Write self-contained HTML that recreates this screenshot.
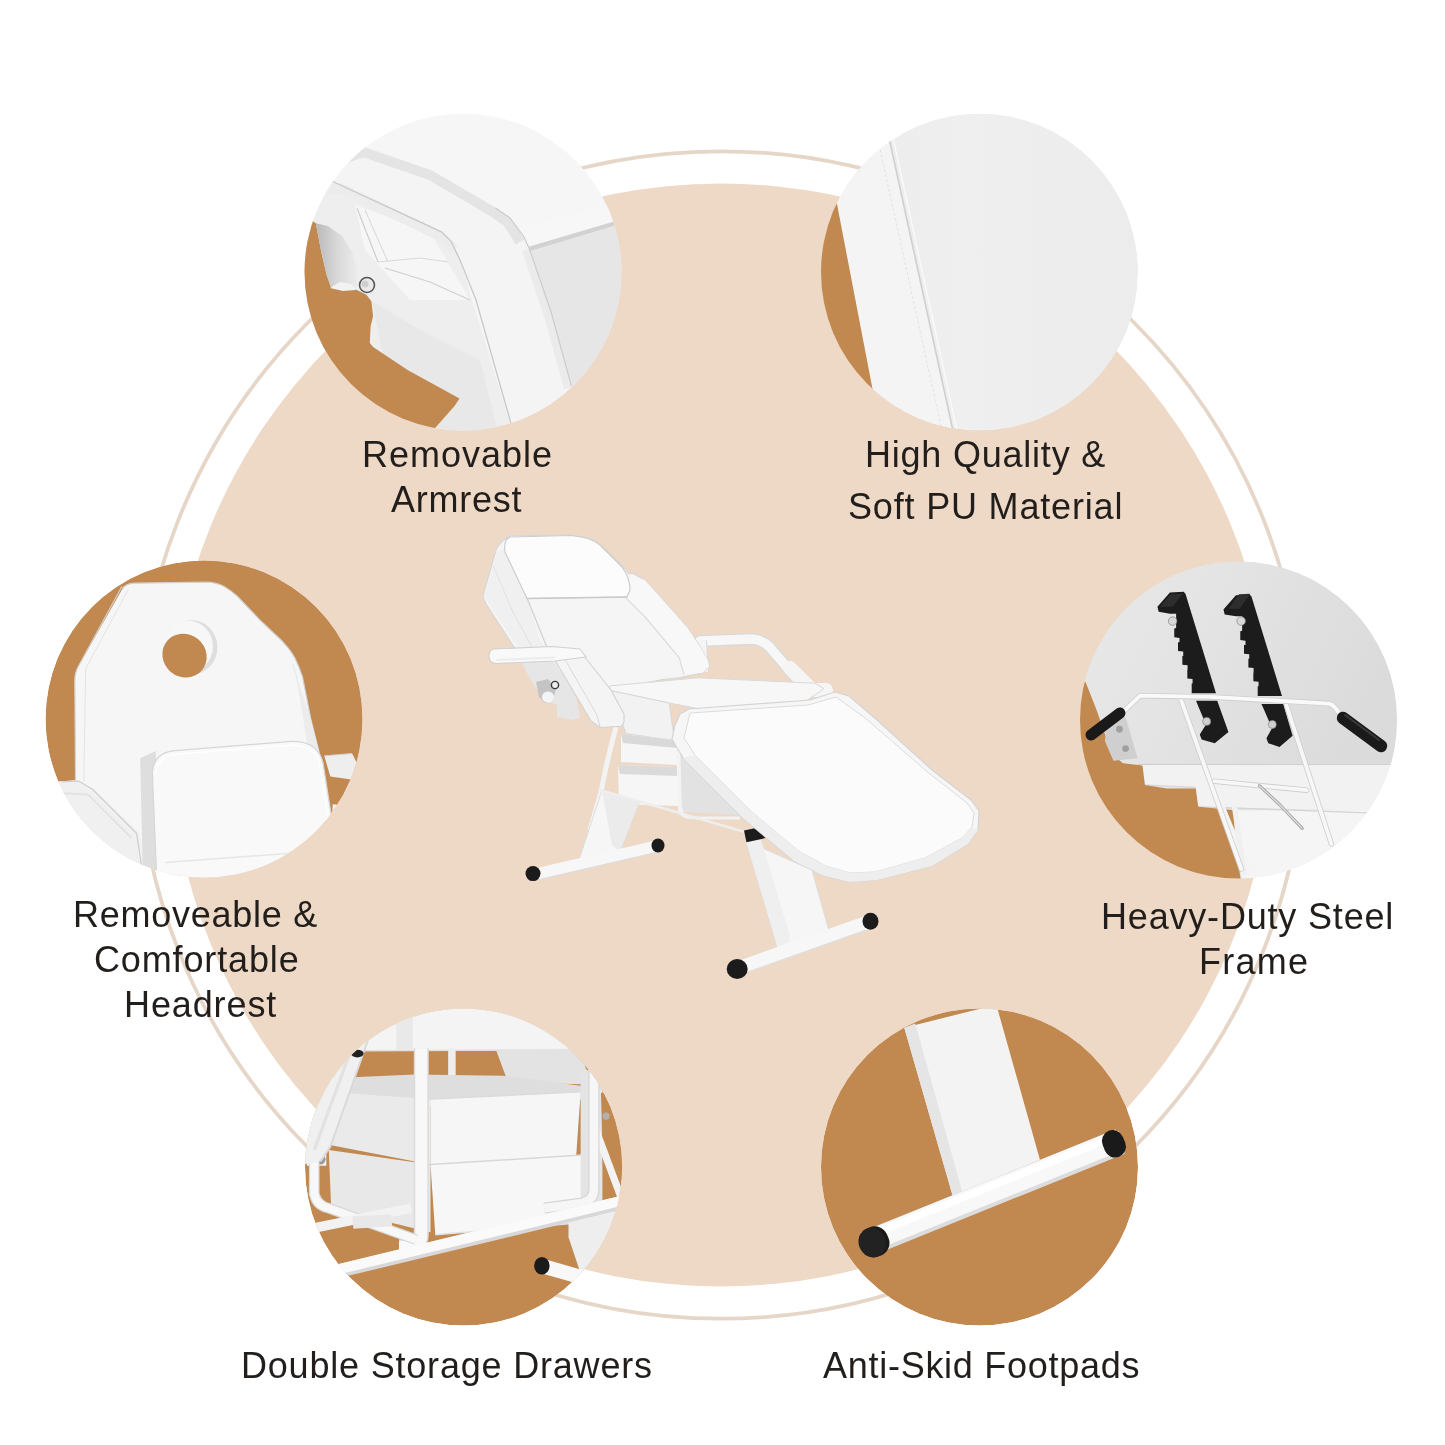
<!DOCTYPE html>
<html><head><meta charset="utf-8">
<style>
html,body{margin:0;padding:0;background:#fff;}
body{width:1445px;height:1445px;position:relative;overflow:hidden;font-family:"Liberation Sans",sans-serif;}
svg{position:absolute;left:0;top:0;}
.t{position:absolute;color:#221e1b;font-size:36px;line-height:36px;white-space:pre;will-change:transform;}
</style></head><body>
<svg width="1445" height="1445" viewBox="0 0 1445 1445">
  <circle cx="721" cy="735" r="583.7" fill="none" stroke="#e6d6c8" stroke-width="3.8"/>
  <circle cx="721" cy="735" r="551.5" fill="#eed9c7"/>
  <g id="chair" stroke-linejoin="round">
    <!-- right armrest frame (behind) -->
    <path d="M700 641 L752 639 Q765 640 773 651 L797 679" fill="none" stroke="#d9d9d9" stroke-width="12" stroke-linecap="round"/>
    <path d="M700 641 L752 639 Q765 640 773 651 L797 679" fill="none" stroke="#f7f7f7" stroke-width="9.5" stroke-linecap="round"/>
    <path d="M701 641 L703 672" fill="none" stroke="#d9d9d9" stroke-width="12"/>
    <path d="M701 641 L703 672" fill="none" stroke="#f4f4f4" stroke-width="10"/>
    <path d="M790 668 L812 690 L826 690" fill="none" stroke="#f5f5f5" stroke-width="14" stroke-linecap="round"/>
    <!-- backrest -->
    <path d="M501.6 541.6 L509.9 535.8 L571.3 535 L586.3 537.5 L596.3 541.6 L609.5 553.2 L622.8 566.5 L629 574 L632.8 573.2 L644.4 579.8 L662.7 599.7 L687.6 628 L700.9 647.9 L707.5 659.5 L709.2 666.2 L702.6 672.8 L679.3 677.8 L662.7 679.5 L600 692 L540 692 L529.8 671.2 L486.6 604.7 L483.3 598.1 L484.2 591.4 L490 571.5 L496.6 548.3 Z" fill="#f5f5f5" stroke="#d6d6d6" stroke-width="1.1"/>
    <path d="M497 552 L505 548 L527 598 L540 640 L560 668 L545 675 L532 668 L488 603 L485 595 Z" fill="#f0f0f0"/>
    <path d="M505 548 L527 598 L548 650" fill="none" stroke="#d0d0d0" stroke-width="1.2"/>
    <path d="M493 565 L512 610 L540 662" fill="none" stroke="#e0e0e0" stroke-width="1"/>
    <!-- right bolster -->
    <path d="M626 598 L629 578 L644.4 579.8 L662.7 599.7 L687.6 628 L700.9 647.9 L707.5 659.5 L709.2 666.2 L702.6 672.8 L684 674.5 L679.3 657.9 L646 618 Z" fill="#f8f8f8"/>
    <path d="M626 598 L646 618 L679.3 657.9 L684 674.5" fill="none" stroke="#dcdcdc" stroke-width="1.2"/>
    <!-- headrest pad -->
    <path d="M510 537 L571 535.5 Q590 537 600 545 L622 567 Q630 578 630 590 L627 597 L527 598.5 L505 552 Q503 540 510 537 Z" fill="#fcfcfc" stroke="#cdcdcd" stroke-width="1.2"/>
    <path d="M527 598.5 L627 597" fill="none" stroke="#c9c9c9" stroke-width="1.6"/>
    <!-- seat -->
    <path d="M609.8 685.9 L698 677.8 L814.9 683.2 L823.9 688.6 L805.9 701.2 L716 712 L669.2 703 L609.8 690.4 Z" fill="#f7f7f7" stroke="#d9d9d9" stroke-width="1"/>
    <path d="M609.8 690.4 L669.2 703 L674.6 740.8 L626 733.6 L611.6 694 Z" fill="#f2f2f2" stroke="#d8d8d8" stroke-width="1"/>
    <!-- under structure -->
    <path d="M680 745 L735 760 L745 815 L682 812 Z" fill="#e2e2e2"/>
    <path d="M680 805 L682 812 Q684 818 700 818 L740 818" fill="none" stroke="#f2f2f2" stroke-width="3"/>
    <!-- drawers -->
    <path d="M621 734 L677 740 L678.6 765 L621 762 Z" fill="#f6f6f6"/>
    <path d="M621 734 L677 740 L677 748 L623 743 Z" fill="#d9d9d9"/>
    <path d="M618 765 L678.6 767 L678.6 806 L619 804 Z" fill="#f6f6f6"/>
    <path d="M618 765 L678.6 767 L678.6 776 L620 774 Z" fill="#dadada"/>
    <path d="M678 738 L680 810 Q681 816 690 817" fill="none" stroke="#f3f3f3" stroke-width="4"/>
    <!-- left frame tube and leg -->
    <path d="M616 727 Q607 760 601 792 L590 830" fill="none" stroke="#f3f3f3" stroke-width="5"/>
    <path d="M602 790 L639 803 L620 851 L594 860 L578 863 Z" fill="#f6f6f6" stroke="#dedede" stroke-width="1"/>
    <path d="M602 790 L639 803 L620 851 L612 845 Z" fill="#ebebeb"/>
    <path d="M600 790 L745 832" fill="none" stroke="#eeeeee" stroke-width="2.5"/>
    <!-- left foot tube -->
    <path d="M537 874 L658 846" fill="none" stroke="#f7f7f7" stroke-width="12" stroke-linecap="butt"/>
    <path d="M537 880 L658 852" fill="none" stroke="#dddddd" stroke-width="1"/>
    <ellipse cx="658" cy="845.5" rx="6.5" ry="7" fill="#1b1b1b"/>
    <ellipse cx="533" cy="873.6" rx="7.5" ry="7.5" fill="#1b1b1b"/>
    <!-- right leg -->
    <path d="M746 841 L812 870 L829 931 L789 949 L778 949 Z" fill="#f6f6f6" stroke="#dedede" stroke-width="1"/>
    <path d="M746 841 L760 836 L790 936 L789 949 L778 949 Z" fill="#efefef"/>
    <rect x="745" y="828" width="22" height="12" fill="#1c1c1c" transform="rotate(-12 756 834)"/>
    <!-- leg rest -->
    <path d="M680 714 L689 709 L810 700 L835 692 L849 696 L877 720 L932 770 L971 800 L979 811 L978 830 L968 844 L932 866 L877 880 L849 882 L822 875 L794 861 L744 819 L683 758 L672 739 L675 725 Z" fill="#f6f6f6" stroke="#d4d4d4" stroke-width="1.2"/>
    <path d="M690 713 L808 705 L836 697 L865 718 L930 774 L967 803 L974 813 L972 827 L962 838 L925 858 L875 872 L850 873 L826 866 L800 852 L752 812 L695 755 L684 738 Z" fill="#fbfbfb" stroke="#dcdcdc" stroke-width="1"/>
    <path d="M683 758 L744 819 L794 861 L822 875 L849 882 L877 880 L932 866 L968 844 L978 830 L972 827 L962 838 L925 858 L875 872 L850 873 L826 866 L800 852 L752 812 L695 755 Z" fill="#eeeeee"/>
    <!-- left armrest bracket -->
    <path d="M522 663 L552 660 L575 690 L580 718 L572 720 L557 717 L557 705 L545 700 L537 690 L528 675 Z" fill="#e6e6e6"/>
    <path d="M536 682 L548 679 L556 689 L553 700 L545 703 L539 697 Z" fill="#c4c4c4"/>
    <ellipse cx="548" cy="697" rx="6" ry="5.5" fill="#f4f4f4"/>
    <circle cx="555" cy="685" r="3.6" fill="#eeeeee" stroke="#3a3a3a" stroke-width="1.4"/>
    <!-- left armrest pad + block -->
    <path d="M553 657 L580 651 L611 690 L624 714 L624 722 L621.7 726.3 L600 727.5 L591 721 Z" fill="#f4f4f4" stroke="#d2d2d2" stroke-width="1.1"/>
    <path d="M563 656 L597 715 L600 727" fill="none" stroke="#dadada" stroke-width="1"/>
    <path d="M494 649 L552 646.5 L580 649 L586 657 L555 661 L496 663.5 Q489 663 489 656 Q489 650 494 649 Z" fill="#f9f9f9" stroke="#d0d0d0" stroke-width="1.1"/>
    <path d="M496 660 L555 657.5" stroke="#ececec" stroke-width="2" fill="none"/>
    <!-- right foot tube -->
    <path d="M742 967 L866 923" fill="none" stroke="#f7f7f7" stroke-width="14" stroke-linecap="butt"/>
    <path d="M742 974 L866 930" fill="none" stroke="#dcdcdc" stroke-width="1"/>
    <ellipse cx="870.5" cy="921.2" rx="8" ry="8.5" fill="#1b1b1b"/>
    <ellipse cx="737.2" cy="969" rx="10.5" ry="10" fill="#1b1b1b"/>
  </g>
  <defs>
    <clipPath id="k1"><circle cx="463" cy="272" r="158.5"/></clipPath>
    <clipPath id="k2"><circle cx="979.5" cy="272" r="158.5"/></clipPath>
    <clipPath id="k3"><circle cx="204" cy="719" r="158.5"/></clipPath>
    <clipPath id="k4"><circle cx="1238.5" cy="720" r="158.5"/></clipPath>
    <clipPath id="k5"><circle cx="463.5" cy="1167" r="158.5"/></clipPath>
    <clipPath id="k6"><circle cx="979.5" cy="1167" r="158.5"/></clipPath>
    <linearGradient id="gband" x1="0" y1="0" x2="0.25" y2="1">
      <stop offset="0" stop-color="#e1e1e1"/><stop offset="0.3" stop-color="#ececec"/><stop offset="1" stop-color="#f8f8f8"/>
    </linearGradient>
    <linearGradient id="gpu" x1="0" y1="0" x2="1" y2="0">
      <stop offset="0" stop-color="#ebebeb"/><stop offset="0.45" stop-color="#efefef"/><stop offset="1" stop-color="#ececec"/>
    </linearGradient>
    <linearGradient id="glever" x1="0" y1="0" x2="1" y2="0">
      <stop offset="0" stop-color="#b9b9b9"/><stop offset="0.5" stop-color="#d8d8d8"/><stop offset="1" stop-color="#ececec"/>
    </linearGradient>
    <linearGradient id="gfr" x1="0" y1="0" x2="1" y2="0.3">
      <stop offset="0" stop-color="#e9e9e9"/><stop offset="0.5" stop-color="#e3e3e3"/><stop offset="1" stop-color="#dbdbdb"/>
    </linearGradient>
    <linearGradient id="gtube" x1="0" y1="0" x2="0" y2="1">
      <stop offset="0" stop-color="#ffffff"/><stop offset="0.6" stop-color="#f4f4f4"/><stop offset="1" stop-color="#d9d9d9"/>
    </linearGradient>
  </defs>
  <g id="c1" clip-path="url(#k1)">
    <circle cx="463" cy="272" r="158.5" fill="#f6f6f6"/>
    <!-- seat side right of post -->
    <path d="M520 232 L640 200 L640 440 L560 440 Z" fill="#e6e6e6"/>
    <path d="M518 228 L640 196 L640 214 L528 247 Z" fill="#f7f7f7"/>
    <path d="M528 247 L640 214 L640 218 L530 251 Z" fill="#d2d2d2"/>
    <!-- window region -->
    <path d="M300 178 L331.6 181 L441.4 231.9 L451 241.4 L460 260 L515 440 L300 440 Z" fill="#eeeeee"/>
    <path d="M355 205 L430 232 L470 300 L410 300 L365 250 Z" fill="#f6f6f6"/>
    <path d="M372 301 L420 330 L480 360 L500 440 L400 440 Z" fill="#e8e8e8"/>
    <path d="M357 208 L378 262" stroke="#cdcdcd" stroke-width="1.2" fill="none"/>
    <path d="M365 210 L388 262" stroke="#d6d6d6" stroke-width="1" fill="none"/>
    <path d="M385 268 L430 282 L470 300" stroke="#d0d0d0" stroke-width="1.2" fill="none"/>
    <path d="M378 262 L420 258 L448 262" stroke="#d8d8d8" stroke-width="1" fill="none"/>
    <!-- armrest band + post -->
    <path d="M363.4 147.5 L430 170 L495.5 208 L510 218 L517.8 228.7 L523.5 236 L529.8 250 L551.4 313 L571.4 386 L590 440 L515 440 L510 420 L476 300 L460 260 L451 241.4 L441.4 231.9 L331.6 181 L300 172 Z" fill="#f4f4f4"/>
    <path d="M300 175 L363.4 152 L430 175 L493 212 L507 222 L514 232 L520 242" fill="none" stroke="#e4e4e4" stroke-width="10"/>
    <path d="M300 190 L340 188 L440 236 L455 250" fill="none" stroke="#ececec" stroke-width="10"/>
    <path d="M526 250 L548 316 L568 388" fill="none" stroke="#ebebeb" stroke-width="8"/>
    <path d="M331.6 181 L441.4 231.9 L451 241.4 L460 260 L476 300 L510 420 L515 440" stroke="#c8c8c8" stroke-width="1.3" fill="none"/>
    <path d="M495.5 208 L510 218 L517.8 228.7 L523.5 236 L529.8 250 L551.4 313 L571.4 386" stroke="#cccccc" stroke-width="1.2" fill="none"/>
    <path d="M300 168 L363.4 147.5" stroke="#e0e0e0" stroke-width="2" fill="none"/>
    <!-- orange -->
    <path d="M312.5 220.8 L315.8 223.3 L321.6 253.2 L326.6 274.8 L330.7 286.4 L343.2 289.7 L354.8 288.9 L366.4 294.7 L371.4 301.3 L373.1 316.3 L370.6 326.2 L369.8 342.9 L373.1 347 L408 370.3 L459.5 398.5 L454.5 406 L436.2 426.7 L420 445 L280 445 L280 200 Z" fill="#c1884f"/>
    <!-- lever -->
    <path d="M315.8 223.3 L328 226 L342 236 L352 252 L358 272 L356 288 L343.2 289.7 L330.7 286.4 L326.6 274.8 L321.6 253.2 Z" fill="url(#glever)"/>
    <path d="M330 288 L340 282 L352 284 L356 290 L343 291 Z" fill="#f2f2f2"/>
    <circle cx="367" cy="285" r="7.5" fill="#e9e9e9" stroke="#555" stroke-width="1.6"/>
    <circle cx="365" cy="284" r="3.5" fill="#cfcfcf"/>
  </g>
  <g id="c2" clip-path="url(#k2)">
    <circle cx="979.5" cy="272" r="158.5" fill="url(#gpu)"/>
    <path d="M826.6 150 L888 133 L955 440 L882.3 440 Z" fill="#f4f4f4"/>
    <path d="M826.6 150 L882.3 440 L800 440 L800 150 Z" fill="#c1884f"/>
    <path d="M888 133 L955 440" stroke="#cfcfcf" stroke-width="1.6" fill="none"/>
    <path d="M892 133 L959 440" stroke="#f9f9f9" stroke-width="1.5" fill="none"/>
    <path d="M878 140 L944 440" stroke="#e2e2e2" stroke-width="1" fill="none" stroke-dasharray="3 2"/>
  </g>
    <g id="c3" clip-path="url(#k3)">
    <circle cx="204" cy="719" r="158.5" fill="#c1884f"/>
    <g transform="translate(30,550) scale(0.24219)">
      <!-- bottom white chair region -->
      <path d="M40 960 L130 955 L200 950 L440 1170 L520 1300 L1240 1250 L1250 1050 L1350 1060 L1400 1400 L0 1400 Z" fill="#f2f2f2"/>
      <!-- right small armrest -->
      <path d="M1215 850 L1330 840 L1350 880 L1340 950 L1240 935 Z" fill="#eeeeee"/>
      <path d="M1215 850 L1330 840" stroke="#d0d0d0" stroke-width="4" fill="none"/>
      <!-- headrest/backrest -->
      <path d="M383 158 Q395 140 430 137 L729 133 Q770 134 800 150 Q830 168 855 190 L950 290 L1043 378 Q1080 418 1094 447 Q1112 485 1125 523 L1160 700 L1210 900 L1240 1100 L1245 1300 L200 1300 L188 960 L185 540 Q185 505 200 480 Z" fill="#f6f6f6"/>
      <path d="M383 158 Q395 140 430 137 L729 133 Q770 134 800 150 Q830 168 855 190 L950 290 L1043 378 Q1080 418 1094 447 Q1112 485 1125 523 L1160 700 L1210 900 L1240 1100" stroke="#d2d2d2" stroke-width="5" fill="none"/>
      <path d="M380 150 L200 480 Q185 505 185 540 L188 960" stroke="#d2d2d2" stroke-width="5" fill="none"/>
      <path d="M405 165 L230 490 L222 960" stroke="#e2e2e2" stroke-width="4" fill="none"/>
      <path d="M1085 470 L1100 520 L1135 700 L1190 900 L1215 1100" stroke="#e4e4e4" stroke-width="4" fill="none"/>
      <path d="M1100 520 L1160 700 L1210 900 L1240 1100 L1245 1300 L1190 1300 L1160 900 Z" fill="#ececec"/>
      <!-- left armrest -->
      <path d="M60 975 L130 955 L200 952 L260 985 L450 1165 L475 1300 L470 1400 L40 1400 Z" fill="#f0f0f0"/>
      <path d="M130 958 L200 954 L258 988 L440 1170 L460 1300" stroke="#cfcfcf" stroke-width="5" fill="none"/>
      <path d="M70 1000 L240 1010 L420 1190" stroke="#e2e2e2" stroke-width="8" fill="none"/>
      <!-- hole -->
      <ellipse cx="668" cy="402" rx="106" ry="112" fill="#dedede"/>
      <ellipse cx="655" cy="398" rx="100" ry="106" fill="#f7f7f7"/>
      <ellipse cx="638" cy="436" rx="94" ry="88" fill="#c1884f" transform="rotate(40 638 436)"/>
      <!-- cushion side shadow -->
      <path d="M455 860 L520 830 L520 1320 L465 1300 Z" fill="#dedede"/>
      <!-- cushion -->
      <path d="M505 920 Q510 835 600 828 L1080 790 Q1190 788 1210 880 L1265 1230 L1270 1400 L525 1400 Z" fill="#f9f9f9" stroke="#d6d6d6" stroke-width="5"/>
      <path d="M520 925 Q528 850 605 843 L1078 806 Q1178 806 1195 885 L1250 1230" fill="none" stroke="#ffffff" stroke-width="5"/>
      <path d="M560 1290 L1240 1240" fill="none" stroke="#e6e6e6" stroke-width="6"/>
    </g>
  </g>
  <g id="c4" clip-path="url(#k4)">
    <circle cx="1238.5" cy="720" r="158.5" fill="#e4e4e4"/>
    <g transform="translate(1065,550) scale(0.24219)">
      <!-- top panel light -->
      <path d="M0 0 L1450 0 L1450 880 L200 880 L160 750 L100 600 L80 540 Z" fill="url(#gfr)"/>
      <!-- lower panels -->
      <path d="M300 880 L1400 880 L1400 1080 L540 1060 L540 980 L330 970 Z" fill="#f2f2f2"/>
      <path d="M300 885 L1400 885" stroke="#cfcfcf" stroke-width="6" fill="none"/>
      <path d="M330 970 L540 980" stroke="#d8d8d8" stroke-width="5" fill="none"/>
      <path d="M700 1075 L1400 1075 L1400 1450 L740 1450 Z" fill="#f5f5f5"/>
      <path d="M540 1060 L1250 1085" stroke="#d4d4d4" stroke-width="5" fill="none"/>
      <!-- orange -->
      <path d="M0 500 L62 540 L85 545 L130 660 L165 760 L200 850 L240 880 L320 890 L330 970 L420 985 L540 985 L550 1060 L700 1075 L700 1200 L740 1450 L0 1450 Z" fill="#c1884f"/>
      <!-- bracket silver -->
      <path d="M170 720 L250 690 L300 860 L200 870 L165 790 Z" fill="#cfcfcf"/>
      <circle cx="225" cy="740" r="14" fill="#a0a0a0"/>
      <circle cx="250" cy="820" r="14" fill="#a0a0a0"/>
      <!-- legs -->
      <path d="M620 1000 L760 1340" stroke="#f4f4f4" stroke-width="30" fill="none"/>
      <path d="M700 1060 L740 1340" stroke="#f0f0f0" stroke-width="22" fill="none"/>
    </g>
    <!-- ratchets (source coords via zoom 8.028) -->
    <g transform="translate(1140,580) scale(0.12456)">
      <path d="M140 215 L240 100 L350 95 L365 110 L610 910 L415 910 L415 900 L415 830 L422 830 L422 795 L380 790 L380 720 L382 720 L382 685 L340 680 L340 610 L347 610 L347 575 L305 570 L305 500 L317 500 L317 465 L275 460 L275 390 L290 385 L290 270 L240 270 L150 255 Z" fill="#1c1c1c"/>
      <path d="M450 970 L620 970 L710 1220 L600 1310 L495 1280 L480 1240 L530 1160 L470 1020 Z" fill="#1c1c1c"/>
      <path d="M670 237 L770 122 L880 117 L895 132 L1140 932 L945 932 L945 922 L945 852 L952 852 L952 817 L910 812 L910 742 L912 742 L912 707 L870 702 L870 632 L877 632 L877 597 L835 592 L835 522 L847 522 L847 487 L805 482 L805 412 L820 407 L820 292 L770 292 L680 277 Z" fill="#1c1c1c"/>
      <path d="M975 995 L1150 995 L1225 1250 L1120 1340 L1030 1310 L1015 1270 L1060 1190 L995 1040 Z" fill="#1c1c1c"/>
      <path d="M160 215 L245 115 L345 110 L260 215 Z" fill="#2e2e2e"/>
      <path d="M710 230 L795 115 L885 110 L800 230 Z" fill="#2e2e2e"/>
      <circle cx="262" cy="330" r="34" fill="#d8d8d8" stroke="#8a8a8a" stroke-width="6"/>
      <circle cx="812" cy="330" r="34" fill="#d8d8d8" stroke="#8a8a8a" stroke-width="6"/>
      <circle cx="535" cy="1135" r="32" fill="#d0d0d0" stroke="#8a8a8a" stroke-width="6"/>
      <circle cx="1062" cy="1160" r="32" fill="#d0d0d0" stroke="#8a8a8a" stroke-width="6"/>
    </g>
    <!-- frame tubes (source coords) -->
    <g fill="none" stroke-linecap="round" stroke-linejoin="round">
      <path d="M1180.7 699 L1241.4 869" stroke="#cfcfcf" stroke-width="5.5"/>
      <path d="M1180.7 699 L1241.4 869" stroke="#f7f7f7" stroke-width="3.8"/>
      <path d="M1286.4 705 L1331.4 844" stroke="#cfcfcf" stroke-width="5.5"/>
      <path d="M1286.4 705 L1331.4 844" stroke="#f7f7f7" stroke-width="3.8"/>
      <path d="M1214.5 781.2 L1306.7 790.2" stroke="#cfcfcf" stroke-width="5.5"/>
      <path d="M1214.5 781.2 L1306.7 790.2" stroke="#f7f7f7" stroke-width="3.8"/>
      <path d="M1259.4 785.7 L1280 805 L1302.2 828.4" stroke="#a8a8a8" stroke-width="3.2"/>
      <path d="M1259.4 785.7 L1280 805 L1302.2 828.4" stroke="#e0e0e0" stroke-width="1.2"/>
      <path d="M1123.4 711.5 L1140.2 695.7 L1210 696.9 L1329.2 703.6 Q1336 706 1340.4 716" stroke="#cfcfcf" stroke-width="5.5"/>
      <path d="M1123.4 711.5 L1140.2 695.7 L1210 696.9 L1329.2 703.6 Q1336 706 1340.4 716" stroke="#fafafa" stroke-width="3.8"/>
      <path d="M1091 735 L1120 713" stroke="#1a1a1a" stroke-width="11"/>
      <path d="M1343 718 L1381 746" stroke="#1a1a1a" stroke-width="12.5"/>
      <path d="M1345 715 L1379 740" stroke="#3a3a3a" stroke-width="2"/>
    </g>
  </g>
  <g id="c5" clip-path="url(#k5)">
    <circle cx="463.5" cy="1167" r="158.5" fill="#c1884f"/>
    <g transform="translate(290,995) scale(0.24219)">
      <!-- top panel -->
      <path d="M200 0 L1300 0 L1300 230 L200 230 Z" fill="#f4f4f4"/>
      <path d="M439 93 L507 93 L507 225 L439 225 Z" fill="#e9e9e9"/>
      <path d="M280 230 L1240 225" stroke="#e0e0e0" stroke-width="6" fill="none"/>
      <!-- rail plate right -->
      <path d="M850 225 L1200 225 L1240 370 L900 360 Z" fill="#e3e3e3"/>
      <!-- left side panel (gray) -->
      <path d="M140 345 L516 328 L880 333 L1240 380 L1240 430 L580 460 L140 440 Z" fill="#dedede"/>
      <path d="M653 220 L684 220 L684 330 L653 330 Z" fill="#eeeeee"/>
      <!-- upper drawer -->
      <path d="M180 400 L580 430 L580 700 L170 620 Z" fill="#eaeaea"/>
      <path d="M580 430 L1200 400 L1180 690 L580 700 Z" fill="#f6f6f6"/>
      <path d="M580 430 L1200 400" stroke="#dadada" stroke-width="6" fill="none"/>
      <!-- lower drawer -->
      <path d="M160 640 L580 700 L580 980 L170 880 Z" fill="#e8e8e8"/>
      <path d="M580 700 L1220 660 L1200 940 L600 990 Z" fill="#f7f7f7"/>
      <path d="M580 700 L1220 660" stroke="#d8d8d8" stroke-width="6" fill="none"/>
      <path d="M600 990 L1200 940" stroke="#e2e2e2" stroke-width="6" fill="none"/>
      <!-- right panel -->
      <path d="M1200 300 L1290 330 L1290 880 L1200 880 Z" fill="#e4e4e4"/>
      <path d="M1284 405 L1420 405 L1420 775 L1293 752 Z" fill="#c1884f"/>
      <path d="M1263 557 L1365 830" stroke="#f3f3f3" stroke-width="30" fill="none"/>
      <circle cx="1305" cy="500" r="15" fill="#b0b0b0"/>
      <path d="M1150 870 L1420 840 L1420 1200 L1200 1150 L1150 1000 Z" fill="#eeeeee"/>
      <!-- frame tubes -->
      <path d="M542 220 L542 990 Q542 1040 482 1040 L450 1040" stroke="#dadada" stroke-width="62" fill="none"/>
      <path d="M542 220 L542 990 Q542 1040 482 1040 L450 1040" stroke="#f8f8f8" stroke-width="50" fill="none"/>
      <path d="M1255 250 L1255 800 Q1255 850 1200 860 L1050 880" stroke="#d6d6d6" stroke-width="46" fill="none"/>
      <path d="M1255 250 L1255 800 Q1255 850 1200 860 L1050 880" stroke="#f6f6f6" stroke-width="36" fill="none"/>
      <path d="M70 680 L150 680" stroke="#f4f4f4" stroke-width="50" fill="none"/>
      <circle cx="125" cy="678" r="22" fill="#9a9a9a"/>
      <path d="M100 690 L100 820 Q110 870 160 880 L520 1010" stroke="#d8d8d8" stroke-width="44" fill="none"/>
      <path d="M100 690 L100 820 Q110 870 160 880 L520 1010" stroke="#f8f8f8" stroke-width="34" fill="none"/>
      <path d="M110 960 L500 880" stroke="#f2f2f2" stroke-width="40" fill="none"/>
      <path d="M260 940 L420 930" stroke="#e8e8e8" stroke-width="50" fill="none"/>
      <!-- long diagonal tube -->
      <path d="M120 1160 L1400 850" stroke="#d8d8d8" stroke-width="56" fill="none"/>
      <path d="M120 1152 L1400 842" stroke="#fafafa" stroke-width="42" fill="none"/>
      <!-- left leg plate -->
      <path d="M227 186 L322 186 L167 626 L120 690 L41 700 L41 186 Z" fill="#f0f0f0"/>
      <path d="M322 186 L167 626 L125 688" stroke="#d9d9d9" stroke-width="8" fill="none"/>
      <path d="M262 200 L100 640" stroke="#e2e2e2" stroke-width="14" fill="none"/>
      <!-- top-left cap -->
      <ellipse cx="278" cy="242" rx="26" ry="16" fill="#222"/>
      <!-- footpad -->
      <path d="M1045 1120 L1220 1170" stroke="#f8f8f8" stroke-width="60" fill="none"/>
      <ellipse cx="1040" cy="1118" rx="32" ry="36" fill="#1b1b1b"/>
    </g>
  </g>
  <g id="c6" clip-path="url(#k6)">
    <circle cx="979.5" cy="1167" r="158.5" fill="#c1884f"/>
    <g transform="translate(805,995) scale(0.24219)">
      <path d="M410 135 L790 40 L970 680 L610 830 Z" fill="#f3f3f3"/>
      <path d="M410 135 L455 118 L652 822 L610 830 Z" fill="#e5e5e5"/>
      <path d="M250 1030 L1300 605" stroke="#dcdcdc" stroke-width="108" fill="none"/>
      <path d="M250 1022 L1300 597" stroke="#f8f8f8" stroke-width="90" fill="none"/>
      <path d="M250 1000 L1300 575" stroke="#ffffff" stroke-width="30" fill="none"/>
      <g transform="rotate(-22 290 1015)">
        <rect x="225" y="955" width="120" height="125" rx="55" fill="#1a1a1a"/>
        <ellipse cx="275" cy="1017" rx="55" ry="62" fill="#222"/>
      </g>
      <g transform="rotate(-22 1280 612)">
        <rect x="1230" y="555" width="90" height="115" rx="45" fill="#1a1a1a"/>
      </g>
    </g>
  </g>
</svg>
<span class="t" style="left:361.8px;top:436.8px;letter-spacing:1.0px">Removable</span>
<span class="t" style="left:391.4px;top:481.5px;letter-spacing:0.767px">Armrest</span>
<span class="t" style="left:864.6px;top:437px;letter-spacing:0.777px">High Quality &amp;</span>
<span class="t" style="left:848.4px;top:488.9px;letter-spacing:0.82px">Soft PU Material</span>
<span class="t" style="left:72.5px;top:896.8px;letter-spacing:0.745px">Removeable &amp;</span>
<span class="t" style="left:93.8px;top:941.8px;letter-spacing:0.86px">Comfortable</span>
<span class="t" style="left:123.8px;top:987.3px;letter-spacing:0.886px">Headrest</span>
<span class="t" style="left:1101.4px;top:899.4px;letter-spacing:0.813px">Heavy-Duty Steel</span>
<span class="t" style="left:1198.8px;top:944.1px;letter-spacing:1.275px">Frame</span>
<span class="t" style="left:240.9px;top:1348px;letter-spacing:0.8px">Double Storage Drawers</span>
<span class="t" style="left:822.9px;top:1347.6px;letter-spacing:0.724px">Anti-Skid Footpads</span>
</body></html>
